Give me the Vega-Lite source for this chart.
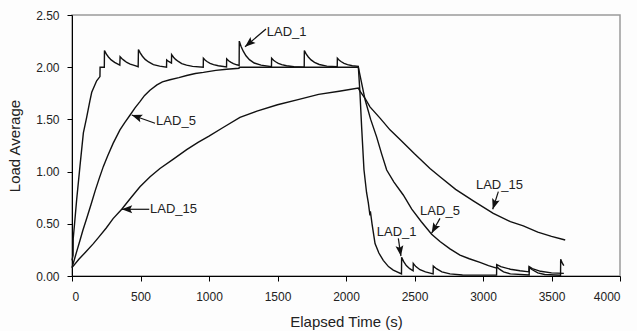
{
  "$schema": "https://vega.github.io/schema/vega-lite/v6.json",
  "width": 548,
  "height": 261,
  "autosize": {"type": "none"},
  "padding": {"left": 72, "top": 15, "right": 17, "bottom": 55},
  "background": "#fdfdfd",
  "config": {
    "font": "Liberation Sans",
    "view": {"stroke": "#9a9a9a", "strokeWidth": 1.5},
    "axis": {
      "grid": false,
      "domainColor": "#000",
      "tickColor": "#000",
      "labelColor": "#222",
      "titleColor": "#222",
      "labelFont": "Liberation Sans",
      "titleFont": "Liberation Sans",
      "titleFontWeight": "normal",
      "labelFontSize": 12,
      "titleFontSize": 15,
      "tickSize": 5,
      "domainWidth": 1,
      "tickWidth": 1
    }
  },
  "datasets": {
    "lad": [
      {"s":"LAD_1","t":0,"v":0.15},{"s":"LAD_1","t":8,"v":0.2},{"s":"LAD_1","t":9,"v":0.36},{"s":"LAD_1","t":20,"v":0.52},{"s":"LAD_1","t":34,"v":0.73},{"s":"LAD_1","t":58,"v":1.05},{"s":"LAD_1","t":83,"v":1.37},{"s":"LAD_1","t":107,"v":1.52},{"s":"LAD_1","t":131,"v":1.68},{"s":"LAD_1","t":144,"v":1.76},{"s":"LAD_1","t":180,"v":1.87},{"s":"LAD_1","t":204,"v":1.91},{"s":"LAD_1","t":205,"v":2.0},{"s":"LAD_1","t":236,"v":2.0},
      {"s":"LAD_1","t":237,"v":2.16},{"s":"LAD_1","t":251,"v":2.125},{"s":"LAD_1","t":266,"v":2.098},{"s":"LAD_1","t":286,"v":2.07},{"s":"LAD_1","t":311,"v":2.046},{"s":"LAD_1","t":349,"v":2.02},
      {"s":"LAD_1","t":351,"v":2.10},{"s":"LAD_1","t":365,"v":2.08},{"s":"LAD_1","t":380,"v":2.065},{"s":"LAD_1","t":400,"v":2.045},{"s":"LAD_1","t":425,"v":2.03},{"s":"LAD_1","t":460,"v":2.015},{"s":"LAD_1","t":483,"v":2.005},
      {"s":"LAD_1","t":485,"v":2.17},{"s":"LAD_1","t":499,"v":2.135},{"s":"LAD_1","t":514,"v":2.105},{"s":"LAD_1","t":534,"v":2.075},{"s":"LAD_1","t":559,"v":2.05},{"s":"LAD_1","t":594,"v":2.025},{"s":"LAD_1","t":640,"v":2.01},{"s":"LAD_1","t":690,"v":2.0},
      {"s":"LAD_1","t":691,"v":2.07},{"s":"LAD_1","t":705,"v":2.055},{"s":"LAD_1","t":726,"v":2.04},
      {"s":"LAD_1","t":727,"v":2.12},{"s":"LAD_1","t":741,"v":2.095},{"s":"LAD_1","t":756,"v":2.075},{"s":"LAD_1","t":776,"v":2.055},{"s":"LAD_1","t":801,"v":2.035},{"s":"LAD_1","t":836,"v":2.02},{"s":"LAD_1","t":880,"v":2.008},{"s":"LAD_1","t":958,"v":2.0},
      {"s":"LAD_1","t":959,"v":2.085},{"s":"LAD_1","t":973,"v":2.066},{"s":"LAD_1","t":988,"v":2.052},{"s":"LAD_1","t":1008,"v":2.037},{"s":"LAD_1","t":1033,"v":2.024},{"s":"LAD_1","t":1068,"v":2.014},{"s":"LAD_1","t":1128,"v":2.003},
      {"s":"LAD_1","t":1129,"v":2.08},{"s":"LAD_1","t":1143,"v":2.062},{"s":"LAD_1","t":1158,"v":2.049},{"s":"LAD_1","t":1178,"v":2.035},{"s":"LAD_1","t":1203,"v":2.023},{"s":"LAD_1","t":1220,"v":2.018},
      {"s":"LAD_1","t":1221,"v":2.25},{"s":"LAD_1","t":1235,"v":2.195},{"s":"LAD_1","t":1250,"v":2.153},{"s":"LAD_1","t":1270,"v":2.109},{"s":"LAD_1","t":1295,"v":2.072},{"s":"LAD_1","t":1330,"v":2.04},{"s":"LAD_1","t":1380,"v":2.02},{"s":"LAD_1","t":1456,"v":2.005},
      {"s":"LAD_1","t":1457,"v":2.085},{"s":"LAD_1","t":1471,"v":2.066},{"s":"LAD_1","t":1486,"v":2.052},{"s":"LAD_1","t":1506,"v":2.037},{"s":"LAD_1","t":1531,"v":2.024},{"s":"LAD_1","t":1566,"v":2.014},{"s":"LAD_1","t":1620,"v":2.005},{"s":"LAD_1","t":1695,"v":2.0},
      {"s":"LAD_1","t":1696,"v":2.16},{"s":"LAD_1","t":1710,"v":2.125},{"s":"LAD_1","t":1725,"v":2.098},{"s":"LAD_1","t":1745,"v":2.07},{"s":"LAD_1","t":1770,"v":2.046},{"s":"LAD_1","t":1805,"v":2.026},{"s":"LAD_1","t":1860,"v":2.01},{"s":"LAD_1","t":1936,"v":2.005},
      {"s":"LAD_1","t":1937,"v":2.085},{"s":"LAD_1","t":1951,"v":2.066},{"s":"LAD_1","t":1966,"v":2.052},{"s":"LAD_1","t":1986,"v":2.037},{"s":"LAD_1","t":2011,"v":2.024},{"s":"LAD_1","t":2046,"v":2.014},{"s":"LAD_1","t":2090,"v":2.008},
      {"s":"LAD_1","t":2102,"v":1.75},{"s":"LAD_1","t":2114,"v":1.43},{"s":"LAD_1","t":2131,"v":1.02},{"s":"LAD_1","t":2150,"v":0.80},{"s":"LAD_1","t":2163,"v":0.70},{"s":"LAD_1","t":2175,"v":0.58},{"s":"LAD_1","t":2178,"v":0.62},{"s":"LAD_1","t":2190,"v":0.5},{"s":"LAD_1","t":2212,"v":0.31},{"s":"LAD_1","t":2240,"v":0.22},{"s":"LAD_1","t":2272,"v":0.15},{"s":"LAD_1","t":2310,"v":0.09},{"s":"LAD_1","t":2345,"v":0.057},{"s":"LAD_1","t":2405,"v":0.02},
      {"s":"LAD_1","t":2406,"v":0.18},{"s":"LAD_1","t":2420,"v":0.14},{"s":"LAD_1","t":2440,"v":0.1},{"s":"LAD_1","t":2465,"v":0.07},{"s":"LAD_1","t":2490,"v":0.05},
      {"s":"LAD_1","t":2491,"v":0.12},{"s":"LAD_1","t":2510,"v":0.09},{"s":"LAD_1","t":2540,"v":0.06},{"s":"LAD_1","t":2580,"v":0.04},{"s":"LAD_1","t":2636,"v":0.02},
      {"s":"LAD_1","t":2637,"v":0.096},{"s":"LAD_1","t":2660,"v":0.07},{"s":"LAD_1","t":2700,"v":0.04},{"s":"LAD_1","t":2759,"v":0.02},{"s":"LAD_1","t":2850,"v":0.01},{"s":"LAD_1","t":3099,"v":0.008},
      {"s":"LAD_1","t":3100,"v":0.09},{"s":"LAD_1","t":3120,"v":0.065},{"s":"LAD_1","t":3150,"v":0.04},{"s":"LAD_1","t":3200,"v":0.02},{"s":"LAD_1","t":3337,"v":0.01},
      {"s":"LAD_1","t":3338,"v":0.08},{"s":"LAD_1","t":3360,"v":0.06},{"s":"LAD_1","t":3400,"v":0.03},{"s":"LAD_1","t":3450,"v":0.015},{"s":"LAD_1","t":3566,"v":0.008},
      {"s":"LAD_1","t":3567,"v":0.16},{"s":"LAD_1","t":3580,"v":0.12},{"s":"LAD_1","t":3590,"v":0.1},

      {"s":"LAD_5","t":0,"v":0.08},{"s":"LAD_5","t":20,"v":0.17},{"s":"LAD_5","t":40,"v":0.26},{"s":"LAD_5","t":58,"v":0.34},{"s":"LAD_5","t":80,"v":0.44},{"s":"LAD_5","t":107,"v":0.55},{"s":"LAD_5","t":140,"v":0.69},{"s":"LAD_5","t":170,"v":0.82},{"s":"LAD_5","t":200,"v":0.94},{"s":"LAD_5","t":229,"v":1.05},{"s":"LAD_5","t":260,"v":1.15},{"s":"LAD_5","t":300,"v":1.27},{"s":"LAD_5","t":350,"v":1.40},{"s":"LAD_5","t":385,"v":1.47},{"s":"LAD_5","t":423,"v":1.54},{"s":"LAD_5","t":460,"v":1.61},{"s":"LAD_5","t":496,"v":1.67},{"s":"LAD_5","t":530,"v":1.73},{"s":"LAD_5","t":569,"v":1.78},{"s":"LAD_5","t":620,"v":1.83},{"s":"LAD_5","t":660,"v":1.86},{"s":"LAD_5","t":715,"v":1.88},{"s":"LAD_5","t":780,"v":1.90},{"s":"LAD_5","t":837,"v":1.92},{"s":"LAD_5","t":900,"v":1.94},{"s":"LAD_5","t":959,"v":1.95},{"s":"LAD_5","t":1050,"v":1.97},{"s":"LAD_5","t":1129,"v":1.98},{"s":"LAD_5","t":1219,"v":1.99},{"s":"LAD_5","t":1221,"v":2.0},{"s":"LAD_5","t":1500,"v":2.0},{"s":"LAD_5","t":1800,"v":2.0},{"s":"LAD_5","t":2090,"v":2.0},
      {"s":"LAD_5","t":2139,"v":1.69},{"s":"LAD_5","t":2180,"v":1.50},{"s":"LAD_5","t":2224,"v":1.33},{"s":"LAD_5","t":2260,"v":1.17},{"s":"LAD_5","t":2297,"v":1.015},{"s":"LAD_5","t":2350,"v":0.9},{"s":"LAD_5","t":2418,"v":0.776},{"s":"LAD_5","t":2480,"v":0.64},{"s":"LAD_5","t":2550,"v":0.52},{"s":"LAD_5","t":2625,"v":0.40},{"s":"LAD_5","t":2686,"v":0.33},{"s":"LAD_5","t":2759,"v":0.26},{"s":"LAD_5","t":2832,"v":0.2},{"s":"LAD_5","t":2900,"v":0.165},{"s":"LAD_5","t":2978,"v":0.13},{"s":"LAD_5","t":3040,"v":0.1},{"s":"LAD_5","t":3099,"v":0.075},{"s":"LAD_5","t":3100,"v":0.11},{"s":"LAD_5","t":3130,"v":0.09},{"s":"LAD_5","t":3200,"v":0.065},{"s":"LAD_5","t":3270,"v":0.05},{"s":"LAD_5","t":3335,"v":0.04},{"s":"LAD_5","t":3336,"v":0.09},{"s":"LAD_5","t":3360,"v":0.07},{"s":"LAD_5","t":3420,"v":0.045},{"s":"LAD_5","t":3500,"v":0.03},{"s":"LAD_5","t":3590,"v":0.025},

      {"s":"LAD_15","t":0,"v":0.08},{"s":"LAD_15","t":50,"v":0.16},{"s":"LAD_15","t":100,"v":0.23},{"s":"LAD_15","t":156,"v":0.31},{"s":"LAD_15","t":200,"v":0.38},{"s":"LAD_15","t":250,"v":0.46},{"s":"LAD_15","t":300,"v":0.55},{"s":"LAD_15","t":363,"v":0.64},{"s":"LAD_15","t":430,"v":0.75},{"s":"LAD_15","t":496,"v":0.855},{"s":"LAD_15","t":570,"v":0.95},{"s":"LAD_15","t":642,"v":1.03},{"s":"LAD_15","t":740,"v":1.12},{"s":"LAD_15","t":837,"v":1.21},{"s":"LAD_15","t":920,"v":1.28},{"s":"LAD_15","t":1000,"v":1.34},{"s":"LAD_15","t":1100,"v":1.42},{"s":"LAD_15","t":1226,"v":1.52},{"s":"LAD_15","t":1350,"v":1.58},{"s":"LAD_15","t":1500,"v":1.64},{"s":"LAD_15","t":1650,"v":1.69},{"s":"LAD_15","t":1800,"v":1.74},{"s":"LAD_15","t":1950,"v":1.77},{"s":"LAD_15","t":2090,"v":1.80},
      {"s":"LAD_15","t":2102,"v":1.77},{"s":"LAD_15","t":2140,"v":1.70},{"s":"LAD_15","t":2175,"v":1.62},{"s":"LAD_15","t":2250,"v":1.51},{"s":"LAD_15","t":2321,"v":1.40},{"s":"LAD_15","t":2400,"v":1.30},{"s":"LAD_15","t":2500,"v":1.17},{"s":"LAD_15","t":2613,"v":1.03},{"s":"LAD_15","t":2686,"v":0.95},{"s":"LAD_15","t":2800,"v":0.83},{"s":"LAD_15","t":2929,"v":0.72},{"s":"LAD_15","t":3075,"v":0.60},{"s":"LAD_15","t":3200,"v":0.52},{"s":"LAD_15","t":3294,"v":0.48},{"s":"LAD_15","t":3400,"v":0.42},{"s":"LAD_15","t":3500,"v":0.38},{"s":"LAD_15","t":3586,"v":0.35},{"s":"LAD_15","t":3600,"v":0.345}
    ],
    "notes": [
      {"label":"LAD_1","tx":1567,"ty":2.337,"ax":1416,"ay":2.366,"hx":1263,"hy":2.196},
      {"label":"LAD_5","tx":759,"ty":1.489,"ax":606,"ay":1.463,"hx":436,"hy":1.542},
      {"label":"LAD_15","tx":741,"ty":0.642,"ax":564,"ay":0.639,"hx":363,"hy":0.639},
      {"label":"LAD_15","tx":3120,"ty":0.875,"ax":3112,"ay":0.808,"hx":3071,"hy":0.639},
      {"label":"LAD_5","tx":2686,"ty":0.627,"ax":2686,"ay":0.552,"hx":2625,"hy":0.409},
      {"label":"LAD_1","tx":2370,"ty":0.424,"ax":2382,"ay":0.361,"hx":2401,"hy":0.19}
    ]
  },
  "layer": [
    {
      "data": {"name": "lad"},
      "mark": {"type": "line", "color": "#111", "strokeWidth": 1.4, "interpolate": "linear"},
      "encoding": {
        "x": {
          "field": "t", "type": "quantitative",
          "scale": {"domain": [0, 4000], "nice": false},
          "axis": {"values": [0,500,1000,1500,2000,2500,3000,3500,4000], "format": "d", "title": "Elapsed Time (s)", "labelPadding": 10, "titleY": 38, "titleBaseline": "top"}
        },
        "y": {
          "field": "v", "type": "quantitative",
          "scale": {"domain": [0, 2.5], "nice": false},
          "axis": {"values": [0,0.5,1,1.5,2,2.5], "format": ".2f", "title": "Load Average", "labelPadding": 8, "titleX": -58, "titleY": 130.5, "titleAngle": -90, "titleAlign": "center", "titleBaseline": "middle"}
        },
        "detail": {"field": "s"}
      }
    },
    {
      "data": {"name": "notes"},
      "mark": {"type": "rule", "color": "#111", "strokeWidth": 1.2},
      "encoding": {
        "x": {"field": "ax", "type": "quantitative"},
        "y": {"field": "ay", "type": "quantitative"},
        "x2": {"field": "hx"},
        "y2": {"field": "hy"}
      }
    },
    {
      "data": {"name": "notes"},
      "transform": [
        {"calculate": "(datum.hx - datum.ax) * 548 / 4000", "as": "dxp"},
        {"calculate": "-(datum.hy - datum.ay) * 261 / 2.5", "as": "dyp"},
        {"calculate": "(atan2(datum.dxp, -datum.dyp) * 180 / PI + 360) % 360", "as": "ang"}
      ],
      "mark": {"type": "point", "shape": "M0,0 L-0.75,2 L0,1.6 L0.75,2 Z", "filled": true, "color": "#111", "opacity": 1, "size": 110, "strokeWidth": 0},
      "encoding": {
        "x": {"field": "hx", "type": "quantitative"},
        "y": {"field": "hy", "type": "quantitative"},
        "angle": {"field": "ang", "type": "quantitative", "scale": null}
      }
    },
    {
      "data": {"name": "notes"},
      "mark": {"type": "text", "font": "Liberation Sans", "fontSize": 13, "color": "#222", "align": "center", "baseline": "middle"},
      "encoding": {
        "x": {"field": "tx", "type": "quantitative"},
        "y": {"field": "ty", "type": "quantitative"},
        "text": {"field": "label"}
      }
    }
  ]
}
